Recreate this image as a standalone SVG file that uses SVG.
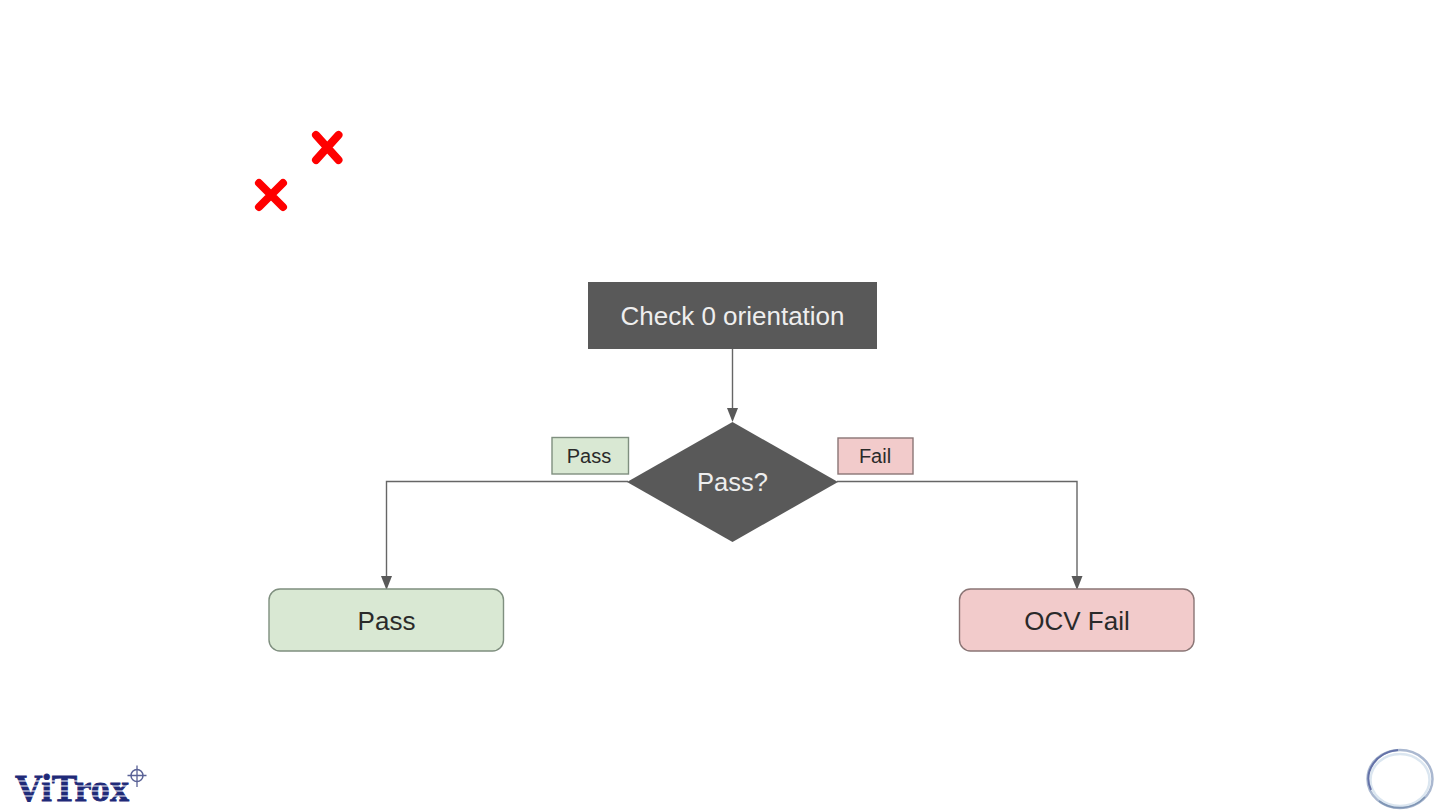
<svg xmlns="http://www.w3.org/2000/svg" width="1440" height="810" viewBox="0 0 1440 810">
<style>
text{font-family:"Liberation Sans",Arial,sans-serif;text-anchor:middle}
.dark{fill:#595959}
.w{fill:#eeeeee}
.k{fill:#2a2a2a}
.g{fill:#d9e8d3;stroke:#7f8f7f;stroke-width:1.4}
.r{fill:#f2cbcb;stroke:#8a7575;stroke-width:1.4}
.c{fill:none;stroke:#666;stroke-width:1.4}
.x{fill:none;stroke:#f00;stroke-width:8;stroke-linecap:round}
.head{fill:#595959}
.stripe{stroke:#fff;stroke-width:1}
</style>
<rect width="1440" height="810" fill="#fff"/>
<g id="connectors">
<path class="c" d="M732.500 349V412"/>
<path class="c" d="M628 481.500H386.500V578"/>
<path class="c" d="M837 481.500H1077V578"/>
<path class="head" d="M727 408H738L732.500 422Z"/>
<path class="head" d="M381 576H392L386.500 590Z"/>
<path class="head" d="M1071.500 576H1082.500L1077 590Z"/>
</g>
<g id="mark1"><path class="x" d="M316 135L338.500 160M338.500 135L316 160"/></g>
<g id="mark2"><path class="x" d="M259 183L283 207M283 183L259 207"/></g>
<g id="check"><rect class="dark" x="588" y="282" width="289" height="67"/><text class="w" x="732.500" y="325" font-size="26">Check 0 orientation</text></g>
<g id="decision"><path class="dark" d="M732.500 422L838 482L732.500 542L627 482Z"/><text class="w" x="732.500" y="491" font-size="25.500">Pass?</text></g>
<g id="label-pass"><rect class="g" x="552" y="437.500" width="76.500" height="36.500"/><text class="k" x="589" y="463" font-size="20">Pass</text></g>
<g id="label-fail"><rect class="r" x="838" y="438" width="75" height="36"/><text class="k" x="875" y="463" font-size="20">Fail</text></g>
<g id="pass"><rect class="g" x="269" y="589" width="234.500" height="62" rx="11"/><text class="k" x="386.500" y="630" font-size="26">Pass</text></g>
<g id="fail"><rect class="r" x="959.500" y="589" width="234.500" height="62" rx="11"/><text class="k" x="1077" y="630" font-size="26">OCV Fail</text></g>
<g id="logo">
<text x="72" y="801" font-size="38" font-weight="700" fill="#1f2a78" stroke="#1f2a78" stroke-width="0.800" style="font-family:'Liberation Serif',serif" textLength="114" lengthAdjust="spacingAndGlyphs">ViTrox</text>
<path class="stripe" d="M14 781H130M14 786H130M14 791H130M14 796H130"/>
<circle cx="137" cy="775.500" r="6" fill="none" stroke="#5a6296" stroke-width="1.500"/>
<path d="M137 765.500V787M127.500 775.500H146.500" stroke="#5a6296" stroke-width="1.300"/>
</g>
<g id="ring">
<ellipse cx="1400" cy="779" rx="32.500" ry="29" fill="none" stroke="#aab8d0" stroke-width="2.500"/>
<ellipse cx="1400" cy="780" rx="29.500" ry="26" fill="#fff" stroke="#dbe6f0" stroke-width="2.500"/>
<path d="M1371 790A32.500 29 0 0 1 1398 750" fill="none" stroke="#6472a8" stroke-width="2"/>
<path d="M1379 801A32.500 29 0 0 0 1425 797" fill="none" stroke="#7f95b4" stroke-width="1.800"/>
</g>
</svg>
